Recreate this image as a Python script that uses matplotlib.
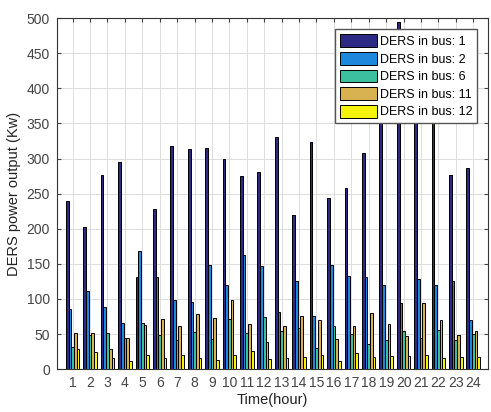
import numpy as np
import matplotlib
matplotlib.use("Agg")
import matplotlib.pyplot as plt

hours = list(range(1, 25))
bus1 = [239, 202, 276, 295, 131, 228, 318, 313, 315, 300, 275, 281,
        330, 219, 324, 244, 258, 308, 395, 495, 410, 385, 277, 286]
bus2 = [86, 111, 89, 66, 169, 131, 98, 96, 148, 120, 163, 147,
        81, 125, 75, 149, 132, 131, 120, 94, 128, 120, 125, 70]
bus6 = [32, 49, 52, 44, 66, 48, 42, 53, 43, 72, 52, 74,
        55, 58, 30, 61, 50, 36, 42, 54, 44, 56, 42, 50]
bus11 = [52, 52, 28, 44, 63, 71, 62, 79, 73, 98, 64, 38,
         61, 75, 70, 43, 62, 80, 64, 47, 94, 70, 49, 55]
bus12 = [29, 25, 16, 12, 20, 16, 20, 16, 13, 20, 26, 14,
         16, 17, 20, 11, 23, 17, 19, 19, 20, 16, 18, 17]
series = [bus1, bus2, bus6, bus11, bus12]
labels = ["DERS in bus: 1", "DERS in bus: 2", "DERS in bus: 6",
          "DERS in bus: 11", "DERS in bus: 12"]
colors = ["#2d2a85", "#1e88dd", "#3bbf9f", "#d8b150", "#f5f20c"]

plt.rcParams['font.family'] = ['Liberation Sans', 'DejaVu Sans']
fig = plt.figure(figsize=(4.91, 4.12), dpi=100)
ax = fig.add_axes([0.116, 0.104, 0.878, 0.852])

x = np.array(hours, dtype=float)
w = 0.155
for i, (vals, lab, col) in enumerate(zip(series, labels, colors)):
    ax.bar(x + (i - 2) * w, vals, width=w, color=col, edgecolor="black",
           linewidth=0.7, label=lab, zorder=3)

ax.set_xlim(0.1, 24.85)
ax.set_ylim(0, 500)
ax.set_xticks(hours)
ax.set_yticks(range(0, 501, 50))
ax.tick_params(direction="in", labelsize=10, colors="#444444", length=3,
               top=True, right=True, pad=5)
ax.grid(True, color="#dddddd", linewidth=0.7, zorder=0)
ax.set_axisbelow(True)
for s in ax.spines.values():
    s.set_color("#333333")
    s.set_linewidth(0.8)
ax.set_ylabel("DERS power output (Kw)", fontsize=10.5, color="#222222")
ax.set_xlabel("Time(hour)", fontsize=10.5, color="#222222", labelpad=2)

leg = ax.legend(loc="upper right", bbox_to_anchor=(0.975, 0.968), fontsize=9.0,
                frameon=True, fancybox=False, framealpha=1, edgecolor="#555555",
                handlelength=2.9, handleheight=1.2, labelspacing=0.32,
                handletextpad=0.25, borderpad=0.4, borderaxespad=0)
leg.set_zorder(10)

fig.savefig("out.png", dpi=100)
